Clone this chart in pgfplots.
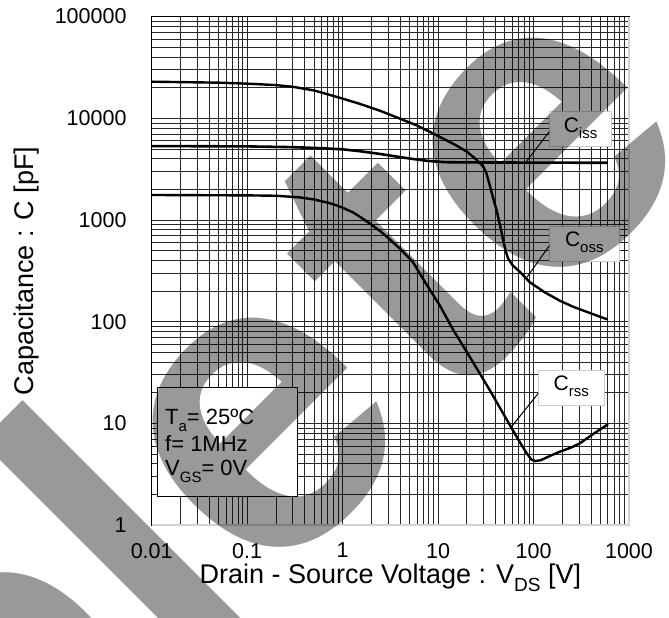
\documentclass[border=0pt]{standalone}
\usepackage{fontspec}
\setmainfont{Liberation Sans}
\usepackage{pgfplots}
\pgfplotsset{compat=1.18}
\definecolor{wm}{RGB}{153,153,153}
\newcommand{\sub}[2]{\raisebox{-0.28em}{\fontsize{#1}{#1}\selectfont #2}}
\begin{document}
\begin{tikzpicture}
\useasboundingbox (0,0) rectangle (669bp,618bp);
\begin{axis}[
  at={(151.7bp,93bp)}, anchor=south west,
  width=477.3bp, height=508.4bp, scale only axis,
  xmode=log, ymode=log,
  xmin=0.01, xmax=1000, ymin=1, ymax=100000,
  xtick={0.01,0.1,1,10,100,1000},
  xticklabels={0.01,0.1,1,10,100,1000},
  ytick={1,10,100,1000,10000,100000},
  yticklabels={1,10,100,1000,10000,100000},
  minor xtick={0.02,0.03,0.04,0.05,0.06,0.07,0.08,0.09,0.2,0.3,0.4,0.5,0.6,0.7,0.8,0.9,2,3,4,5,6,7,8,9,20,30,40,50,60,70,80,90,200,300,400,500,600,700,800,900},
  minor ytick={2,3,4,5,6,7,8,9,20,30,40,50,60,70,80,90,200,300,400,500,600,700,800,900,2000,3000,4000,5000,6000,7000,8000,9000,20000,30000,40000,50000,60000,70000,80000,90000},
  grid=both,
  major grid style={black!85, line width=0.7bp},
  minor grid style={black!85, line width=0.7bp},
  tick style={draw=none},
  axis line style={black, line width=0.8bp},
  tick label style={font=\fontsize{21.5bp}{24bp}\selectfont},
  xticklabel style={anchor=north, inner sep=0pt, yshift=-18bp},
  yticklabel style={anchor=east, inner sep=0pt, xshift=-25bp},
  xlabel={Drain - Source Voltage : V\sub{19bp}{DS} [V]},
  xlabel style={at={(axis description cs:0.5,-0.104)}, anchor=center, font=\fontsize{27bp}{30bp}\selectfont},
  ylabel={Capacitance : C [pF]},
  ylabel style={at={(axis description cs:-0.263,0.5)}, anchor=center, font=\fontsize{27bp}{30bp}\selectfont},
]
% Coss
\addplot[black, line width=2.4bp, line join=round] coordinates {
(0.01,22900) (0.05,22400) (0.1,21900) (0.2,21200) (0.3,20400) (0.5,18800) (0.7,17200)
(1,15600) (1.5,13900) (2.5,11800) (4,9900) (6,8500) (10,6700) (15,5500) (20,4700)
(25,3950) (28,3550) (30,3300) (32,2900) (35,2150) (38,1600) (41,1250) (45,850)
(48,633) (51,500) (54,420) (60,360) (72,309) (91,245) (130,195) (190,160) (260,140)
(360,125) (480,113) (600,105)};
% Ciss
\addplot[black, line width=2.6bp, line join=round] coordinates {
(0.01,5330) (0.1,5290) (0.3,5200) (0.6,5080) (1,4950) (1.5,4750) (2.5,4450) (4,4150)
(6,3930) (8,3800) (12,3700) (20,3680) (600,3650)};
% Crss
\addplot[black, line width=2.4bp, line join=round] coordinates {
(0.01,1760) (0.1,1745) (0.2,1730) (0.35,1670) (0.5,1590) (0.7,1480) (0.85,1400) (1,1320)
(1.3,1180) (1.6,1040) (2,900) (2.5,770) (3,665) (4,520) (5,420) (5.5,380) (6.4,300)
(7.5,235) (8.5,195) (10.4,145) (14.4,83) (21.5,45) (34.8,21.2) (56.5,9.6) (70,6.8)
(84.5,5.1) (95,4.4) (105,4.25) (120,4.35) (150,4.8) (189,5.26) (250,5.8) (306,6.36)
(421,7.85) (604,9.8)};
\end{axis}
% border overdraw (bottom / right lighter)
\draw[gray!35, line width=1.2bp] (151.7bp,93bp) -- (629bp,93bp) -- (629bp,601.4bp);
% condition box
\draw[black, line width=1.2bp, fill=white] (157.3bp,121.3bp) rectangle (297.3bp,230.3bp);
\begin{scope}[every node/.style={anchor=base west, inner sep=0pt, font=\fontsize{22bp}{22bp}\selectfont}]
\node at (165bp,193bp) {T\sub{15bp}{a}= 25ºC};
\node at (165bp,166.3bp) {f= 1MHz};
\node at (165bp,142bp) {V\sub{15bp}{GS}= 0V};
\end{scope}
% curve labels
\begin{scope}[every node/.style={inner sep=0pt, font=\fontsize{21bp}{21bp}\selectfont}]
\draw[gray!40, fill=white, line width=0.8bp] (549.3bp,471.3bp) rectangle (611.7bp,506.3bp);
\node at (580.5bp,490bp) {C\sub{15bp}{iss}};
\draw[line width=1bp] (549.3bp,486.3bp) -- (526.7bp,457bp);
\draw[gray!40, fill=white, line width=0.8bp] (549.3bp,357bp) rectangle (619.3bp,391.3bp);
\node at (584.3bp,375.5bp) {C\sub{15bp}{oss}};
\draw[line width=1bp] (549.3bp,372.3bp) -- (525.7bp,339bp);
\draw[gray!40, fill=white, line width=0.8bp] (538.3bp,212.7bp) rectangle (604bp,247.3bp);
\node at (571.2bp,231.5bp) {C\sub{15bp}{rss}};
\draw[line width=1bp] (538.3bp,224.7bp) -- (511bp,190.7bp);
\end{scope}
% watermark
\begin{scope}[blend mode=multiply, shift={(429.5bp,188.5bp)}, rotate=45, transform shape,
  every node/.style={anchor=base west, inner sep=0pt, text=wm, font=\fontsize{425bp}{425bp}\selectfont\bfseries}]
\node at (-1441.5bp,0bp) {Obso};
\node at (-355.2bp,0bp) {l};
\node at (-237bp,0bp) {e};
\node at (18.8bp,0bp) {t};
\node at (159.7bp,0bp) {e};
\end{scope}
\end{tikzpicture}
\end{document}
